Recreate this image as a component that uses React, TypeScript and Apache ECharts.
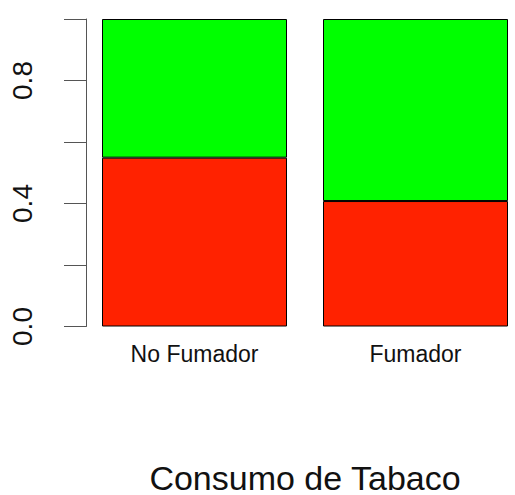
import React, { useEffect, useRef } from "react";
import * as echarts from "echarts";

// Proportion of each group in the two smoking categories (stacked to 1)
const categories = ["No Fumador", "Fumador"];
const redShare = [0.549, 0.408];
const greenShare = [0.451, 0.592];
const yTickLabels = ["0.0", "0.4", "0.8"];
const xTitle = "Consumo de Tabaco";

const FONT = "'Liberation Sans', Arial, Helvetica, sans-serif";

export default function App() {
  const ref = useRef<HTMLDivElement>(null);

  useEffect(() => {
    if (!ref.current) return;
    const chart = echarts.init(ref.current, null, { renderer: "svg" });
    chart.setOption({
      animation: false,
      backgroundColor: "#ffffff",
      grid: {
        left: 84,
        top: 19,
        width: 442,
        height: 307.5,
        containLabel: false,
        outerBoundsMode: "none",
      },
      xAxis: {
        type: "category",
        data: categories,
        axisLine: { show: false },
        axisTick: { show: false },
        axisLabel: { fontSize: 23, color: "#111", fontFamily: FONT, margin: 16 },
        name: xTitle,
        nameLocation: "middle",
        nameGap: 137,
        nameTextStyle: { fontSize: 34, lineHeight: 28, color: "#111", fontFamily: FONT },
      },
      yAxis: {
        type: "value",
        min: 0,
        max: 1,
        interval: 0.2,
        offset: -2,
        splitLine: { show: false },
        axisLine: { show: true, lineStyle: { color: "#555", width: 1 } },
        axisTick: { show: true, length: 22, lineStyle: { color: "#555", width: 1 } },
        axisLabel: {
          rotate: 90,
          fontSize: 28,
          color: "#111",
          fontFamily: FONT,
          margin: 50,
          formatter: (v: number) => {
            const s = v.toFixed(1);
            return yTickLabels.includes(s) ? s : "";
          },
        },
      },
      series: [
        {
          type: "bar",
          stack: "share",
          data: redShare,
          barWidth: 185,
          itemStyle: { color: "#ff2200", borderColor: "#000", borderWidth: 1 },
        },
        {
          type: "bar",
          stack: "share",
          data: greenShare,
          barWidth: 185,
          itemStyle: { color: "#00ff00", borderColor: "#000", borderWidth: 1 },
        },
      ],
    });
    return () => chart.dispose();
  }, []);

  return (
    <div
      ref={ref}
      style={{ position: "fixed", left: 0, top: 0, width: 515, height: 495 }}
    />
  );
}
